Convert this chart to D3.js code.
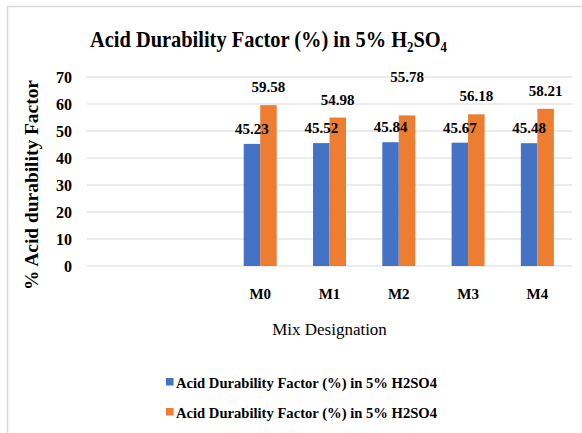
<!DOCTYPE html>
<html>
<head>
<meta charset="utf-8">
<script src="https://cdn.jsdelivr.net/npm/d3@7"></script>
<style>
  body { margin: 0; background: #fff; }
  svg { display: block; font-family: "Liberation Serif", "Times New Roman", serif; }
</style>
</head>
<body>
<svg id="chart" width="582" height="433"></svg>
<script>
// categories (two blank slots precede M0 in the original sheet)
var categories = ['', ' ', 'M0', 'M1', 'M2', 'M3', 'M4'];
var seriesA = [null, null, 45.23, 45.52, 45.84, 45.67, 45.48];
var seriesB = [null, null, 59.58, 54.98, 55.78, 56.18, 58.21];
var seriesNames = ['Acid Durability Factor (%) in 5% H2SO4', 'Acid Durability Factor (%) in 5% H2SO4'];
var yTicks = [0, 10, 20, 30, 40, 50, 60, 70];
// manual label nudges (px), the 55.78 label was dragged up in the original
var nudgeB = [0, 0, 0, 0, -20, 0, 0];

var colors = ['#4472C4', '#ED7D31'];
var svg = d3.select('#chart');
var margin = { left: 87, right: 10, top: 77, bottom: 167 };
var width = 582 - margin.left - margin.right;
var height = 433 - margin.top - margin.bottom;

// outer chart border (runs off the right and bottom of the picture)
svg.append('rect')
	.attr('x', 7.5).attr('y', 6.5)
	.attr('width', 700).attr('height', 600)
	.attr('fill', 'none').attr('stroke', '#d9d9d9').attr('stroke-width', 1.5);

// title with subscripts
var title = svg.append('text')
	.attr('x', 90).attr('y', 47)
	.attr('font-size', 24).attr('font-weight', 'bold')
	.attr('textLength', 357).attr('lengthAdjust', 'spacingAndGlyphs');
title.append('tspan').text('Acid Durability Factor (%) in 5% H');
title.append('tspan').attr('font-size', 15).attr('dy', 5).text('2');
title.append('tspan').attr('dy', -5).text('SO');
title.append('tspan').attr('font-size', 15).attr('dy', 5).text('4');

var g = svg.append('g').attr('transform', 'translate(' + margin.left + ',' + margin.top + ')');

var x0 = d3.scaleBand().domain(categories).range([0, width]).paddingInner(0.524).paddingOuter(0.262);
var x1 = d3.scaleBand().domain([0, 1]).range([0, x0.bandwidth()]);
var y = d3.scaleLinear().domain([0, 70]).range([height, 0]);

// gridlines
g.selectAll('line.grid').data(yTicks).enter().append('line')
	.attr('class', 'grid')
	.attr('x1', 0).attr('x2', width)
	.attr('y1', function (d) { return y(d); })
	.attr('y2', function (d) { return y(d); })
	.attr('stroke', '#d9d9d9').attr('stroke-width', 1);

// y axis labels
var yAxis = d3.axisLeft(y).tickValues(yTicks).tickSize(0).tickPadding(15);
var yg = g.append('g').call(yAxis);
yg.select('.domain').remove();
yg.selectAll('text').attr('font-size', 16).attr('font-weight', 'bold')
	.attr('font-family', '"Liberation Serif", serif').attr('fill', '#000');

// x axis labels
var xAxis = d3.axisBottom(x0).tickSize(0).tickPadding(22);
var xg = g.append('g').attr('transform', 'translate(0,' + height + ')').call(xAxis);
xg.select('.domain').remove();
xg.selectAll('text').attr('font-size', 15).attr('font-weight', 'bold')
	.attr('font-family', '"Liberation Serif", serif').attr('fill', '#000');

var series = [seriesA, seriesB];
series.forEach(function (vals, s) {
	var rows = categories.map(function (c, i) { return { cat: c, v: vals[i], i: i }; })
		.filter(function (d) { return d.v != null; });
	g.append('g').selectAll('rect').data(rows).enter().append('rect')
		.attr('x', function (d) { return x0(d.cat) + x1(s); })
		.attr('width', x1.bandwidth())
		.attr('y', function (d) { return y(d.v); })
		.attr('height', function (d) { return height - y(d.v); })
		.attr('fill', colors[s]);
});

// data labels drawn after both series so text sits on top
series.forEach(function (vals, s) {
	var rows = categories.map(function (c, i) { return { cat: c, v: vals[i], i: i }; })
		.filter(function (d) { return d.v != null; });
	g.append('g').selectAll('text').data(rows).enter().append('text')
		.attr('x', function (d) { return x0(d.cat) + x1(s) + x1.bandwidth() / 2; })
		.attr('y', function (d) { return y(d.v) - (s == 0 ? 10 : 13) + (s == 1 ? nudgeB[d.i] : 0); })
		.attr('text-anchor', 'middle')
		.attr('font-size', 15).attr('font-weight', 'bold')
		.text(function (d) { return d.v.toFixed(2); });
});

// axis titles
svg.append('text')
	.attr('transform', 'translate(38,290) rotate(-90)')
	.attr('font-size', 18).attr('font-weight', 'bold')
	.attr('textLength', 210).attr('lengthAdjust', 'spacingAndGlyphs')
	.text('% Acid durability Factor');

svg.append('text')
	.attr('x', margin.left + width / 2).attr('y', 335)
	.attr('text-anchor', 'middle')
	.attr('font-size', 17)
	.text('Mix Designation');

// legend
var legend = svg.append('g').attr('transform', 'translate(166,0)');
seriesNames.forEach(function (name, s) {
	var row = legend.append('g').attr('transform', 'translate(0,' + (388 + s * 30) + ')');
	row.append('rect').attr('x', 0).attr('y', -10).attr('width', 7.5).attr('height', 7.5).attr('fill', colors[s]);
	row.append('text').attr('x', 10).attr('y', 0)
		.attr('font-size', 15).attr('font-weight', 'bold')
		.attr('textLength', 261).attr('lengthAdjust', 'spacingAndGlyphs')
		.text(name);
});
</script>
</body>
</html>
